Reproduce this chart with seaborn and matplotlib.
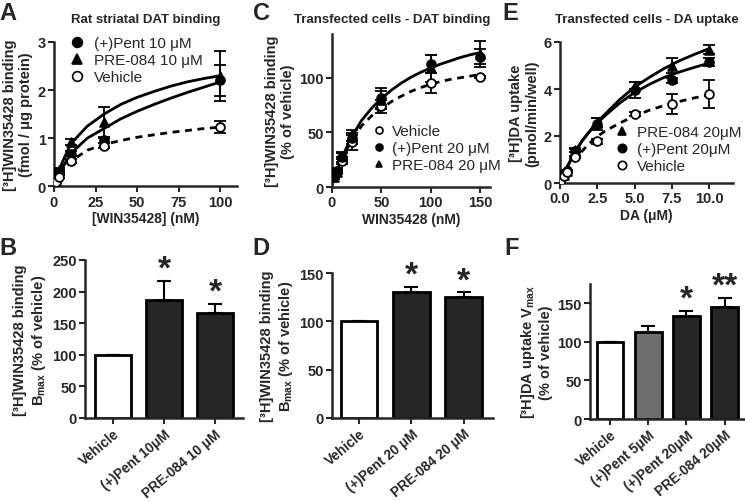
import numpy as np
import pandas as pd
import matplotlib.pyplot as plt
import seaborn as sns
from matplotlib.lines import Line2D

# ---- panel A: rat striatal DAT binding ----
a_x = [0.3, 1, 3, 10, 30, 100]
a_pent = [0.03, 0.1, 0.3, 0.68, 0.97, 2.2]
a_pent_err = [0.01, 0.02, 0.04, 0.06, 0.06, 0.33]
a_pre = [0.04, 0.12, 0.33, 0.92, 1.33, 2.3]
a_pre_err = [0.01, 0.02, 0.05, 0.07, 0.32, 0.52]
a_veh = [0.02, 0.08, 0.2, 0.52, 0.84, 1.23]
a_veh_err = [0.01, 0.01, 0.03, 0.04, 0.05, 0.13]
# fitted curves
a_fit_x = [0, 5, 10, 20, 30, 40, 50, 60, 70, 80, 90, 100]
a_fit_pre = [0, 0.5, 0.88, 1.25, 1.5, 1.7, 1.85, 1.97, 2.08, 2.17, 2.24, 2.3]
a_fit_pent = [0, 0.38, 0.68, 1.0, 1.2, 1.4, 1.56, 1.7, 1.83, 1.95, 2.06, 2.17]
a_fit_veh = [0, 0.3, 0.52, 0.75, 0.87, 0.95, 1.02, 1.07, 1.12, 1.16, 1.2, 1.23]

# ---- panel C: transfected cells, DAT binding ----
c_x = [2, 5, 10, 20, 50, 100, 150]
c_veh = [9.8, 15, 24, 40.8, 73.8, 95, 100.3]
c_veh_err = [2, 2, 3, 7, 6, 9, 1]
c_pent = [9.5, 15, 27, 44.5, 81, 112.4, 119.4]
c_pent_err = [2, 2, 4, 5, 10, 8, 7]
c_pre = [9, 14, 28.6, 47.5, 80, 108.5, 121.6]
c_pre_err = [1.5, 2, 3, 5, 8, 12, 12]
c_fit_x = [0, 5, 10, 20, 30, 40, 50, 60, 70, 80, 90, 100, 110, 120, 130, 140, 150]
c_fit_drug = [2, 15, 27, 46, 61, 72, 81, 88.5, 95, 100.5, 105, 109, 112.5, 115.5, 118.5, 121, 123]
c_fit_veh = [2, 14, 26, 43, 56, 65, 72, 78, 83, 87.5, 91, 94, 96.5, 98.5, 100, 101.5, 103]

# ---- panel E: transfected cells, DA uptake ----
e_x = [0, 0.25, 0.5, 1, 2.5, 5, 7.5, 10]
e_pre = [0.05, 0.35, 0.5, 1.4, 2.57, 4.13, 5.0, 5.67]
e_pre_err = [0.02, 0.05, 0.05, 0.08, 0.2, 0.15, 0.3, 0.2]
e_pent = [0.05, 0.4, 0.5, 1.38, 2.5, 3.95, 4.37, 5.15]
e_pent_err = [0.02, 0.05, 0.05, 0.08, 0.25, 0.35, 0.1, 0.15]
e_veh = [0.05, 0.3, 0.45, 1.11, 1.78, 2.94, 3.37, 3.78]
e_veh_err = [0.02, 0.03, 0.04, 0.06, 0.1, 0.08, 0.42, 0.6]
e_fit_x = [0, 0.5, 1, 1.5, 2, 2.5, 3, 4, 5, 6, 7, 8, 9, 10]
e_fit_pre = [0, 0.7, 1.3, 1.8, 2.2, 2.58, 2.92, 3.55, 4.08, 4.5, 4.88, 5.2, 5.47, 5.72]
e_fit_pent = [0, 0.72, 1.32, 1.82, 2.22, 2.55, 2.85, 3.4, 3.85, 4.2, 4.5, 4.72, 4.92, 5.1]
e_fit_veh = [0, 0.5, 0.98, 1.37, 1.7, 1.98, 2.2, 2.55, 2.85, 3.1, 3.3, 3.47, 3.62, 3.75]

# ---- bar panels ----
b_groups = ["Vehicle", "(+)Pent 10μM", "PRE-084 10 μM"]
b_values = [100, 187, 166]
b_errors = [0, 30, 14]
b_stars = ["", "*", "*"]

d_groups = ["Vehicle", "(+)Pent 20 μM", "PRE-084 20 μM"]
d_values = [100, 130, 125]
d_errors = [0, 6, 5]
d_stars = ["", "*", "*"]

f_groups = ["Vehicle", "(+)Pent 5μM", "(+)Pent 20μM", "PRE-084 20μM"]
f_values = [100, 113, 133, 145]
f_errors = [0, 7, 7, 12]
f_stars = ["", "", "*", "**"]

DARK = "#262626"
GRAY = "#6e6e6e"

sns.set_style("ticks")
plt.rcParams["font.family"] = ["Liberation Sans", "DejaVu Sans"]
plt.rcParams["mathtext.fontset"] = "custom"
plt.rcParams["mathtext.rm"] = "Liberation Sans:bold"
plt.rcParams["mathtext.bf"] = "Liberation Sans:bold"

W, H = 745, 502
fig = plt.figure(figsize=(W / 100, H / 100), dpi=100)


def add_panel(left, top, right, bottom):
    return fig.add_axes([left / W, 1 - bottom / H, (right - left) / W, (bottom - top) / H])


def finish_axes(ax, xlabel, ylabel, xtick_size=10.5):
    sns.despine(ax=ax)
    for side in ["left", "bottom"]:
        ax.spines[side].set_linewidth(1.8)
    ax.tick_params(width=1.5, length=4, labelsize=10.5, pad=2)
    ax.tick_params(axis="x", labelsize=xtick_size)
    for lab in ax.get_xticklabels() + ax.get_yticklabels():
        lab.set_fontweight("bold")
    ax.set_xlabel(xlabel, fontsize=10, fontweight="bold", labelpad=2)
    ax.set_ylabel(ylabel, fontsize=10.5, fontweight="bold", labelpad=3)


def curve_panel(ax, series, fits, legend_order, legend_pos, legend_ms, handletextpad):
    for xs, ys, dashed in fits:
        sns.lineplot(x=xs, y=ys, ax=ax, color="black", linewidth=2,
                     linestyle=(0, (2.5, 2)) if dashed else "-",
                     estimator=None, sort=False)
    handles = {}
    for name, xs, ys, err, marker, filled in series:
        ax.errorbar(xs, ys, yerr=err, fmt="none", ecolor="black",
                    elinewidth=1.3, capsize=4, capthick=1.3, zorder=3)
        sns.scatterplot(x=xs, y=ys, ax=ax, marker=marker, s=40,
                        color="black" if filled else "white",
                        edgecolor="black", linewidth=1.3, zorder=4)
        handles[name] = Line2D([], [], marker=marker, linestyle="none",
                               markersize=legend_ms,
                               markerfacecolor="black" if filled else "white",
                               markeredgecolor="black", markeredgewidth=1.2)
    ax.legend([handles[n] for n in legend_order], legend_order,
              loc="upper left", bbox_to_anchor=legend_pos, frameon=False,
              prop={"weight": "normal", "size": 11}, handlelength=0.9,
              handletextpad=handletextpad, labelspacing=0.2, borderpad=0,
              borderaxespad=0)


def bar_panel(ax, groups, values, errors, colors, stars, star_offset):
    df = pd.DataFrame({"group": groups, "value": values})
    sns.barplot(data=df, x="group", y="value", hue="group", palette=colors,
                legend=False, width=0.7, edgecolor="black", linewidth=2,
                errorbar=None, ax=ax)
    pos = np.arange(len(groups))
    ax.errorbar(pos, values, yerr=[np.zeros(len(errors)), errors], fmt="none",
                ecolor="black", elinewidth=1.5, capsize=5, capthick=1.5, zorder=3)
    for i, s in enumerate(stars):
        if s:
            ax.text(pos[i], values[i] + errors[i] + star_offset, s, ha="center",
                    va="bottom", fontsize=24, fontweight="bold")
    ax.set_xticks(pos)
    ax.set_xticklabels(groups, rotation=40, ha="right", rotation_mode="anchor")


# ---- A ----
ax_a = add_panel(54, 43, 237, 187.3)
curve_panel(
    ax_a,
    [("(+)Pent 10 μM", a_x, a_pent, a_pent_err, "o", True),
     ("PRE-084 10 μM", a_x, a_pre, a_pre_err, "^", True),
     ("Vehicle", a_x, a_veh, a_veh_err, "o", False)],
    [(a_fit_x, a_fit_pre, False), (a_fit_x, a_fit_pent, False), (a_fit_x, a_fit_veh, True)],
    ["(+)Pent 10 μM", "PRE-084 10 μM", "Vehicle"], (0.087, 1.04), 7, 0.65)
ax_a.set_xlim(0, 110)
ax_a.set_ylim(0, 3)
ax_a.set_xticks([0, 25, 50, 75, 100])
ax_a.set_yticks([0, 1, 2, 3])
finish_axes(ax_a, "[WIN35428] (nM)", "[³H]WIN35428 binding\n(fmol / μg protein)")

# ---- C ----
ax_c = add_panel(332, 35, 490, 188)
curve_panel(
    ax_c,
    [("Vehicle", c_x, c_veh, c_veh_err, "o", False),
     ("(+)Pent 20 μM", c_x, c_pent, c_pent_err, "o", True),
     ("PRE-084 20 μM", c_x, c_pre, c_pre_err, "^", True)],
    [(c_fit_x, c_fit_drug, False), (c_fit_x, c_fit_veh, True)],
    ["Vehicle", "(+)Pent 20 μM", "PRE-084 20 μM"], (0.255, 0.41), 5, 0.4)
ax_c.set_xlim(0, 160)
ax_c.set_ylim(0, 140)
ax_c.set_xticks([0, 50, 100, 150])
ax_c.set_yticks([0, 50, 100])
finish_axes(ax_c, "WIN35428 (nM)", "[³H]WIN35428 binding\n(% of vehicle)")

# ---- E ----
ax_e = add_panel(560, 43, 733, 184)
curve_panel(
    ax_e,
    [("PRE-084 20μM", e_x, e_pre, e_pre_err, "^", True),
     ("(+)Pent 20μM", e_x, e_pent, e_pent_err, "o", True),
     ("Vehicle", e_x, e_veh, e_veh_err, "o", False)],
    [(e_fit_x, e_fit_pre, False), (e_fit_x, e_fit_pent, False), (e_fit_x, e_fit_veh, True)],
    ["PRE-084 20μM", "(+)Pent 20μM", "Vehicle"], (0.32, 0.41), 6, 0.5)
ax_e.set_xlim(0, 11.6)
ax_e.set_ylim(0, 6)
ax_e.set_xticks([0, 2.5, 5, 7.5, 10])
ax_e.set_xticklabels(["0.0", "2.5", "5.0", "7.5", "10.0"])
ax_e.set_yticks([0, 2, 4, 6])
finish_axes(ax_e, "DA (μM)", "[³H]DA uptake\n(pmol/min/well)")

# ---- B ----
ax_b = add_panel(85, 261, 243, 419)
bar_panel(ax_b, b_groups, b_values, b_errors, ["white", DARK, DARK], b_stars, -6)
ax_b.set_xlim(-0.55, 2.55)
ax_b.set_ylim(0, 250)
ax_b.set_yticks([0, 50, 100, 150, 200, 250])
finish_axes(ax_b, "", "[³H]WIN35428 binding\nB$_{\\mathrm{max}}$ (% of vehicle)", 9.8)

# ---- D ----
ax_d = add_panel(332, 274, 493, 419)
bar_panel(ax_d, d_groups, d_values, d_errors, ["white", DARK, DARK], d_stars, -4)
ax_d.set_xlim(-0.52, 2.56)
ax_d.set_ylim(0, 150)
ax_d.set_yticks([0, 50, 100, 150])
finish_axes(ax_d, "", "[³H]WIN35428 binding\nB$_{\\mathrm{max}}$ (% of vehicle)", 9.8)

# ---- F ----
ax_f = add_panel(590, 285, 745, 420)
bar_panel(ax_f, f_groups, f_values, f_errors, ["white", GRAY, DARK, DARK], f_stars, -5)
ax_f.set_xlim(-0.52, 3.53)
ax_f.set_ylim(0, 175)
ax_f.set_yticks([0, 50, 100, 150])
finish_axes(ax_f, "", "[³H]DA uptake V$_{\\mathrm{max}}$\n(% of vehicle)", 9.8)

# titles and panel letters
titles = [("Rat striatal DAT binding", 146), ("Transfected cells - DAT binding", 392),
          ("Transfected cells - DA uptake", 647)]
for txt, xc in titles:
    fig.text(xc / W, 1 - 20 / H, txt, ha="center", va="center", fontsize=9.5, fontweight="bold")

letters = [("A", 7.5, 13), ("B", 7.5, 249), ("C", 261, 13), ("D", 261, 249),
           ("E", 510, 13), ("F", 512, 249)]
for txt, xc, yc in letters:
    fig.text(xc / W, 1 - yc / H, txt, ha="center", va="center", fontsize=17, fontweight="bold")

fig.savefig("out.png", dpi=100)
